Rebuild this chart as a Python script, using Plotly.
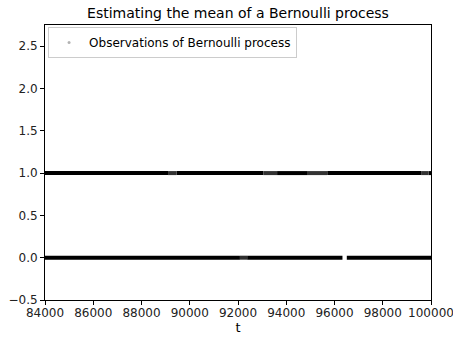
import plotly.graph_objects as go

# Observations of a Bernoulli process, summarised as runs along t
# Dense runs of observations equal to 1
ones_dense_start = [84000, 89450, 93620, 95700, 99900]
ones_dense_end = [89100, 93050, 94860, 99590, 100000]
# Sparse runs (lighter) of observations equal to 1
ones_sparse_start = [89100, 93050, 94860, 99590]
ones_sparse_end = [89450, 93620, 95700, 99900]

# Dense runs of observations equal to 0
zeros_dense_start = [84000, 92380, 96510]
zeros_dense_end = [92080, 96330, 100000]
# Sparse runs of observations equal to 0
zeros_sparse_start = [92080]
zeros_sparse_end = [92380]

x_range = [84000, 100000]
y_range = [-0.5, 2.75]
x_ticks = [84000, 86000, 88000, 90000, 92000, 94000, 96000, 98000, 100000]
y_ticks = [-0.5, 0.0, 0.5, 1.0, 1.5, 2.0, 2.5]

title = "Estimating the mean of a Bernoulli process"
legend_label = "Observations of Bernoulli process"


def segs(starts, ends, value):
    xs, ys = [], []
    for s, e in zip(starts, ends):
        xs += [s, e, None]
        ys += [value, value, None]
    return xs, ys


fig = go.Figure()

for starts, ends, val, col in [
    (ones_dense_start, ones_dense_end, 1, "black"),
    (ones_sparse_start, ones_sparse_end, 1, "#333333"),
    (zeros_dense_start, zeros_dense_end, 0, "black"),
    (zeros_sparse_start, zeros_sparse_end, 0, "#2e2e2e"),
]:
    xs, ys = segs(starts, ends, val)
    fig.add_trace(go.Scatter(x=xs, y=ys, mode="lines",
                             line=dict(color=col, width=4),
                             showlegend=False, hoverinfo="skip"))

# legend entry
fig.add_trace(go.Scatter(x=[None], y=[None], mode="markers",
                         marker=dict(color="rgba(0,0,0,0.3)", size=3),
                         name=legend_label, showlegend=True))

axis_common = dict(showline=True, linecolor="black", linewidth=1, mirror=True,
                   ticks="outside", ticklen=4, tickcolor="black", tickwidth=1,
                   showgrid=False, zeroline=False, automargin=False,
                   ticklabeloverflow="allow",
                   tickfont=dict(family="DejaVu Sans", size=12, color="#222"))

fig.update_layout(
    width=453, height=337,
    margin=dict(l=45, r=22, t=25, b=37),
    paper_bgcolor="white", plot_bgcolor="white",
    title=dict(text=title, x=0.5, xref="paper", xanchor="center",
               y=1 - 13 / 337, yanchor="middle",
               font=dict(family="DejaVu Sans", size=14, color="black")),
    xaxis=dict(range=x_range, tickvals=x_ticks, tickformat="d",
               ticklabelstandoff=-2,
               title=dict(text="t", font=dict(family="DejaVu Sans", size=13, color="black"), standoff=0),
               **axis_common),
    yaxis=dict(range=y_range, tickvals=y_ticks, tickformat=".1f", **axis_common),
    legend=dict(x=0.008, y=0.993, xanchor="left", yanchor="top",
                bordercolor="#cccccc", borderwidth=1, bgcolor="white",
                font=dict(family="DejaVu Sans", size=12, color="black"),
                itemwidth=30),
    showlegend=True,
)

fig.write_html("out.html")
